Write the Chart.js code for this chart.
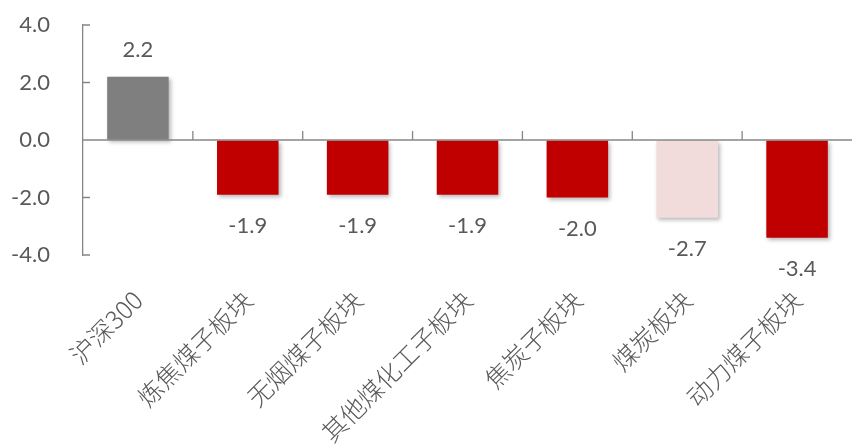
<!DOCTYPE html>
<html>
<head>
<meta charset="utf-8">
<script src="https://cdn.jsdelivr.net/npm/chart.js@4/dist/chart.umd.min.js"></script>
<style>
  html, body { margin: 0; padding: 0; background: #fff; }
  #wrap { width: 852px; height: 446px; position: relative; }
</style>
</head>
<body>
<div id="wrap"><canvas id="c"></canvas></div>
<script>
// Weekly change by coal sub-sector vs the CSI 300 (%)
const categories = ['沪深300', '炼焦煤子板块', '无烟煤子板块', '其他煤化工子板块', '焦炭子板块', '煤炭板块', '动力煤子板块'];
const changes = [2.2, -1.9, -1.9, -1.9, -2.0, -2.7, -3.4];
const yTicks = [-4, -2, 0, 2, 4];

const barColors = ['#7F7F7F', '#C00000', '#C00000', '#C00000', '#C00000', '#F2DCDB', '#C00000'];
const textColor = '#595959';
const axisColor = '#868686';
const numFont = 'Lato, "Liberation Sans", sans-serif';
const cjkFont = '"Noto Sans CJK SC", "Noto Sans", sans-serif';

// soft drop shadow under bars, then value labels on top
const barDecor = {
  id: 'barDecor',
  beforeDatasetsDraw(chart) {
    const ctx = chart.ctx;
    ctx.save();
    ctx.shadowColor = 'rgba(0,0,0,0.28)';
    ctx.shadowBlur = 4;
    ctx.shadowOffsetX = 2;
    ctx.shadowOffsetY = 2;
  },
  afterDatasetsDraw(chart) {
    const ctx = chart.ctx;
    ctx.restore();
    const meta = chart.getDatasetMeta(0);
    ctx.save();
    ctx.fillStyle = textColor;
    ctx.font = '22px ' + numFont;
    ctx.textAlign = 'center';
    ctx.textBaseline = 'middle';
    meta.data.forEach((bar, i) => {
      const v = changes[i];
      const y = v >= 0 ? bar.y - 27 : bar.y + 31;
      ctx.fillText(v.toFixed(1), bar.x, y);
    });
    ctx.restore();
  }
};

// zero baseline with category separators, plus inner tick marks on the value axis
const axesDecor = {
  id: 'axesDecor',
  afterDatasetsDraw(chart) {
    const ctx = chart.ctx;
    const xs = chart.scales.x, ys = chart.scales.y;
    const area = chart.chartArea;
    const y0 = ys.getPixelForValue(0);
    ctx.save();
    ctx.strokeStyle = axisColor;
    ctx.lineWidth = 1.3;
    ctx.beginPath();
    ctx.moveTo(area.left, y0);
    ctx.lineTo(area.right, y0);
    for (let i = 0; i < categories.length - 1; i++) {
      const xb = (xs.getPixelForValue(i) + xs.getPixelForValue(i + 1)) / 2;
      ctx.moveTo(xb, y0);
      ctx.lineTo(xb, y0 - 9);
    }
    yTicks.forEach(t => {
      const yy = ys.getPixelForValue(t);
      ctx.moveTo(area.left, yy);
      ctx.lineTo(area.left + 7, yy);
    });
    ctx.stroke();
    ctx.restore();
  }
};

new Chart(document.getElementById('c'), {
  type: 'bar',
  data: {
    labels: categories,
    datasets: [{
      data: changes,
      backgroundColor: barColors,
      borderWidth: 0,
      categoryPercentage: 1.0,
      barPercentage: 0.56
    }]
  },
  options: {
    responsive: true,
    maintainAspectRatio: false,
    animation: false,
    layout: { padding: { top: 25, right: -3, left: 0, bottom: 0 } },
    plugins: { legend: { display: false }, tooltip: { enabled: false } },
    scales: {
      x: {
        grid: { display: false, drawTicks: false },
        border: { display: false },
        afterFit(s) { s.height = 191; },
        ticks: {
          autoSkip: false,
          maxRotation: 45,
          minRotation: 45,
          padding: 30,
          color: textColor,
          font: { family: cjkFont, size: 25, weight: 300 }
        }
      },
      y: {
        min: -4,
        max: 4,
        afterFit(s) { s.width = 83; },
        afterBuildTicks(s) { s.ticks = yTicks.map(v => ({ value: v })); },
        grid: { display: true, drawOnChartArea: false, drawTicks: true, tickLength: 30, tickColor: 'rgba(0,0,0,0)' },
        border: { display: true, color: axisColor, width: 1.3 },
        ticks: {
          padding: 3,
          color: textColor,
          font: { family: numFont, size: 22 },
          callback: v => Number(v).toFixed(1)
        }
      }
    }
  },
  plugins: [barDecor, axesDecor]
});
</script>
</body>
</html>
